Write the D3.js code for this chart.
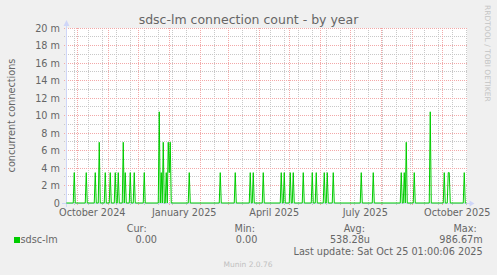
<!DOCTYPE html>
<html>
<head>
<meta charset="utf-8">
<script src="https://cdn.jsdelivr.net/npm/d3@7"></script>
<style>
  html, body { margin: 0; padding: 0; background: #f0f0f0; }
  svg { display: block; font-family: "DejaVu Sans", sans-serif; }
</style>
</head>
<body>
<div class="graph"></div>
<script>
// days on which a connection was seen (daily averages)
const spikeDates = [
  "2024-09-28", "2024-10-10", "2024-10-19", "2024-10-23", "2024-10-29", "2024-11-03",
  "2024-11-08", "2024-11-11", "2024-11-16", "2024-11-18", "2024-11-23", "2024-11-27",
  "2024-12-07", "2024-12-22", "2024-12-24", "2024-12-26", "2024-12-29", "2024-12-31",
  "2025-01-01", "2025-01-02", "2025-01-21", "2025-02-21", "2025-03-08", "2025-03-23",
  "2025-03-26", "2025-04-05", "2025-04-23", "2025-04-26", "2025-05-02", "2025-05-05",
  "2025-05-15", "2025-05-24", "2025-05-28", "2025-06-05", "2025-06-08", "2025-06-14",
  "2025-07-12", "2025-07-24", "2025-08-21", "2025-08-24", "2025-08-26", "2025-09-03",
  "2025-09-19", "2025-10-03", "2025-10-07", "2025-10-08", "2025-10-23"
];
const spikeValues = [
  0.00347, 0.00347, 0.00347, 0.00694, 0.00347, 0.00347,
  0.00347, 0.00347, 0.00694, 0.00347, 0.00347, 0.00347,
  0.00347, 0.01042, 0.00347, 0.00694, 0.00347, 0.00694,
  0.00347, 0.00694, 0.00347, 0.00347, 0.00347, 0.00347,
  0.00347, 0.00347, 0.00347, 0.00347, 0.00347, 0.00347,
  0.00347, 0.00347, 0.00347, 0.00347, 0.00347, 0.00347,
  0.00347, 0.00347, 0.00347, 0.00347, 0.00694, 0.00347,
  0.01042, 0.00347, 0.00347, 0.00347, 0.00347
];

// x axis labels (one every three months)
const monthLabels = ["October 2024", "January 2025", "April 2025", "July 2025", "October 2025"];
const monthLabelDates = ["2024-10-01", "2025-01-01", "2025-04-01", "2025-07-01", "2025-10-01"];

// legend table
const legendHeads = ["Cur:", "Min:", "Avg:", "Max:"];
const legendValues = ["0.00", "0.00", "538.28u", "986.67m"];

const Title = "sdsc-lm connection count - by year";
const YLabel = "concurrent connections";
const SeriesName = "sdsc-lm";
const LastUpdate = "Last update: Sat Oct 25 01:00:06 2025";
const Watermark = "RRDTOOL / TOBI OETIKER";
const Footer = "Munin 2.0.76";

const OuterWidth = 497, OuterHeight = 275;
const Plot = {left: 66.3, right: 466.3, top: 28, bottom: 203};
const LineColor = "#00cc00";
const FontColor = "#666666";
const MajorGrid = "rgb(242,168,168)";
const MinorGrid = "#c8c8c8";
const AxisColor = "#cfd6f8";

const startTime = new Date("2024-09-20T01:00:06Z");
const endTime = new Date("2025-10-25T01:00:06Z");

const svg = d3.select(".graph")
  .append("svg")
  .attr("width", OuterWidth)
  .attr("height", OuterHeight);

svg.append("rect")
  .attr("width", OuterWidth).attr("height", OuterHeight)
  .attr("fill", "#f0f0f0");

// canvas
svg.append("rect")
  .attr("x", 66).attr("y", Plot.top)
  .attr("width", 401).attr("height", Plot.bottom - Plot.top)
  .attr("fill", "#ffffff");

const x = d3.scaleUtc()
  .domain([startTime, endTime])
  .range([Plot.left, Plot.right]);

const y = d3.scaleLinear()
  .domain([0, 0.02])
  .range([Plot.bottom, Plot.top]);

const snap = v => Math.floor(v) + 0.5;

// vertical grid: every second saturday (minor), month starts (major)
const minorDays = d3.utcSaturday.range(new Date("2024-09-28T00:00:00Z"), endTime, 2);
const monthDays = d3.utcMonth.range(startTime, endTime);

const gridG = svg.append("g").attr("shape-rendering", "crispEdges");

gridG.selectAll("line.vminor")
  .data(minorDays)
  .join("line")
  .attr("class", "vminor")
  .attr("x1", d => snap(x(d))).attr("x2", d => snap(x(d)))
  .attr("y1", Plot.top).attr("y2", Plot.bottom + 2)
  .attr("stroke", MinorGrid)
  .attr("stroke-dasharray", "1,1");

// horizontal grid
const yTicks = y.ticks(20);
gridG.selectAll("line.hgrid")
  .data(yTicks.filter(v => v > 0))
  .join("line")
  .attr("class", "hgrid")
  .attr("x1", 64).attr("x2", 467)
  .attr("y1", d => snap(y(d))).attr("y2", d => snap(y(d)))
  .attr("stroke", (d, i) => i % 2 === 1 ? MajorGrid : MinorGrid)
  .attr("stroke-dasharray", "1,1");

gridG.selectAll("line.vmajor")
  .data(monthDays)
  .join("line")
  .attr("class", "vmajor")
  .attr("x1", d => snap(x(d))).attr("x2", d => snap(x(d)))
  .attr("y1", Plot.top).attr("y2", Plot.bottom + 3)
  .attr("stroke", MajorGrid)
  .attr("stroke-dasharray", "1,1");

// axes with arrows
svg.append("line")
  .attr("x1", 62).attr("x2", 470)
  .attr("y1", Plot.bottom + 0.5).attr("y2", Plot.bottom + 0.5)
  .attr("stroke", AxisColor);
svg.append("line")
  .attr("x1", 66.5).attr("x2", 66.5)
  .attr("y1", Plot.bottom + 4).attr("y2", Plot.top - 4)
  .attr("stroke", AxisColor);
svg.append("path")
  .attr("d", `M469.5,${Plot.bottom - 2.5}L469.5,${Plot.bottom + 3.5}L474.5,${Plot.bottom + 0.5}Z`)
  .attr("fill", AxisColor);
svg.append("path")
  .attr("d", `M63.5,${Plot.top - 2}L69.5,${Plot.top - 2}L66.5,${Plot.top - 8}Z`)
  .attr("fill", AxisColor);

// series points: each spike day plus its zero neighbours
const valueByDay = new Map(spikeDates.map((d, i) => [+new Date(d + "T00:00:00Z"), spikeValues[i]]));
const dayTimes = new Set([+startTime, +endTime]);
valueByDay.forEach((v, t) => {
  dayTimes.add(+d3.utcDay.offset(new Date(t), -1));
  dayTimes.add(t);
  dayTimes.add(+d3.utcDay.offset(new Date(t), 1));
});
const series = Array.from(dayTimes).sort((a, b) => a - b)
  .map(t => ({date: new Date(t), value: valueByDay.get(t) || 0}));

const line = d3.line()
  .x(d => x(d.date))
  .y(d => y(d.value));

svg.append("path")
  .datum(series)
  .attr("d", line)
  .attr("fill", "none")
  .attr("stroke", LineColor)
  .attr("stroke-width", 1);

// y tick labels
svg.append("g")
  .selectAll("text")
  .data(yTicks.filter((v, i) => i % 2 === 0))
  .join("text")
  .attr("x", 60)
  .attr("y", d => y(d) + 3.6)
  .attr("text-anchor", "end")
  .attr("fill", FontColor)
  .style("font-size", "9.7px")
  .text(d => d === 0 ? "0" : `${Math.round(d * 1000)} m`);

// x labels centred half a month after the label date
svg.append("g")
  .selectAll("text")
  .data(monthLabels)
  .join("text")
  .attr("x", (d, i) => x(d3.utcDay.offset(new Date(monthLabelDates[i] + "T00:00:00Z"), 15)))
  .attr("y", 215.5)
  .attr("text-anchor", "middle")
  .attr("fill", FontColor)
  .style("font-size", "9.7px")
  .text(d => d);

// title
svg.append("text")
  .attr("x", 248.5).attr("y", 23.5)
  .attr("text-anchor", "middle")
  .attr("fill", FontColor)
  .style("font-size", "12.5px")
  .text(Title);

// y axis label
svg.append("text")
  .attr("transform", `translate(15, ${(Plot.top + Plot.bottom) / 2}) rotate(-90)`)
  .attr("text-anchor", "middle")
  .attr("fill", FontColor)
  .style("font-size", "9.7px")
  .text(YLabel);

// watermark on the right
svg.append("text")
  .attr("transform", "translate(485.3, 5) rotate(90)")
  .attr("fill", "#c4c4c4")
  .style("font-size", "7.5px")
  .text(Watermark);

// legend
const headX = [146.7, 255, 365, 476.7];
const valX = [157, 257.3, 370, 482.7];
svg.append("g")
  .selectAll("text")
  .data(legendHeads)
  .join("text")
  .attr("x", (d, i) => headX[i]).attr("y", 231.5)
  .attr("text-anchor", "end")
  .attr("fill", FontColor)
  .style("font-size", "9.7px")
  .text(d => d);

svg.append("g")
  .selectAll("text")
  .data(legendValues)
  .join("text")
  .attr("x", (d, i) => valX[i]).attr("y", 243)
  .attr("text-anchor", "end")
  .attr("fill", FontColor)
  .style("font-size", "9.7px")
  .text(d => d);

svg.append("rect")
  .attr("x", 14).attr("y", 237)
  .attr("width", 6).attr("height", 6)
  .attr("fill", LineColor);
svg.append("text")
  .attr("x", 20.5).attr("y", 243)
  .attr("fill", FontColor)
  .style("font-size", "9.7px")
  .text(SeriesName);

svg.append("text")
  .attr("x", 482.7).attr("y", 255)
  .attr("text-anchor", "end")
  .attr("fill", FontColor)
  .style("font-size", "9.7px")
  .text(LastUpdate);

svg.append("text")
  .attr("x", 248).attr("y", 266.5)
  .attr("text-anchor", "middle")
  .attr("fill", "#c0c0c0")
  .style("font-size", "7.5px")
  .text(Footer);
</script>
</body>
</html>
